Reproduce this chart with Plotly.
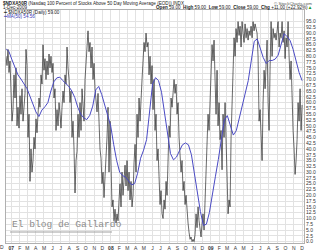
import plotly.graph_objects as go
import pandas as pd

# ---- data ----
data_start = "2006-12-13"
data_end = "2009-12-01"

pct_above_50ma = [
    80, 76, 83, 73, 78, 60, 52, 57, 72, 62,
    75, 50, 58, 49, 63, 55, 66, 52, 60, 64,
    83, 76, 45, 55, 26, 40, 30, 35, 45, 40,
    53, 47, 55, 62, 58, 72, 68, 85, 74, 79,
    70, 78, 72, 81, 75, 80, 73, 77, 62, 66,
    48, 57, 50, 60, 55, 49, 58, 65, 60, 72,
    68, 84, 75, 70, 60, 65, 45, 52, 40, 21,
    35, 39, 55, 45, 60, 48, 66, 58, 52, 70,
    78, 85, 91, 82, 86, 75, 84, 70, 77, 66,
    60, 56, 64, 48, 40, 36, 25, 30, 19, 28,
    35, 45, 58, 30, 52, 23, 15, 18, 9, 14,
    8, 12, 9, 18, 25, 15, 30, 20, 26, 33,
    24, 35, 22, 30, 18, 26, 15, 20, 34, 42,
    30, 55, 45, 62, 52, 66, 70, 78, 86, 82,
    90, 84, 86, 72, 80, 68, 76, 57, 70, 48,
    55, 35, 40, 28, 16, 22, 12, 10, 18, 14,
    26, 20, 38, 50, 45, 62, 58, 66, 70, 64,
    68, 55, 60, 45, 38, 30, 35, 22, 26, 16,
    20, 12, 8, 4, 1, 2, 0, 1, 0, 3,
    12, 6, 15, 9, 4, 2, 8, 12, 5, 18,
    30, 42, 55, 48, 62, 72, 85, 78, 87, 70,
    55, 74, 50, 60, 44, 48, 31, 55, 45, 60,
    39, 28, 12, 18, 15, 45, 57, 70, 88, 80,
    92, 86, 95, 89, 93, 84, 95, 90, 86, 94,
    88, 92, 87, 91, 89, 93, 88, 95, 91, 94,
    92, 90, 80, 52, 57, 49, 35, 60, 74, 66,
    80, 87, 60, 48, 75, 95, 80, 92, 88, 90,
    87, 92, 95, 84, 90, 88, 95, 86, 91, 79,
    88, 84, 95, 80, 70, 78, 55, 48, 40, 29,
    35, 44, 60, 52, 66, 48, 59,
]

ma50 = [
    83.3, 82.0, 78.5, 75.0, 72.0, 70.2, 68.3, 66.1, 62.8, 59.6,
    56.0, 54.0, 56.8, 58.2, 60.0, 65.0, 69.0, 70.7, 71.0, 69.5,
    68.3, 67.0, 65.0, 62.2, 58.0, 55.0, 53.4, 52.7, 54.5, 58.5,
    65.5, 67.0, 63.5, 59.0, 55.3, 50.0, 42.0, 35.0, 30.0, 28.5,
    27.8, 26.2, 24.5, 25.0, 29.5, 36.0, 39.5, 44.0, 56.6, 68.0,
    70.8, 69.5, 64.5, 56.0, 46.0, 38.0, 35.3, 36.5, 39.2, 41.8,
    42.6, 41.8, 37.5, 29.0, 20.5, 13.0, 7.0, 7.5, 12.5, 19.5,
    28.0, 35.5, 44.5, 52.5, 54.4, 49.8, 46.0, 47.9, 53.5, 58.7,
    63.5, 69.5, 78.0, 86.5, 87.5, 83.5, 79.5, 76.9, 78.2, 78.2,
    78.8, 80.5, 84.8, 89.8, 88.5, 86.8, 83.0, 78.0, 73.0, 69.5,
]

month_letters = ["J", "F", "M", "A", "M", "J", "J", "A", "S", "O", "N", "D"]
y_tick_values = [i * 2.5 for i in range(39)]

title_text = ("<b>$NDXA50R</b> (Nasdaq 100 Percent of Stocks Above 50 Day "
              "Moving Average (EOD)) INDX")
date_text = "1-Dec-2009"
ohlc_text = ("<b>Open</b> 59.00  <b>High</b> 59.00  <b>Low</b> 59.00  "
             "<b>Close</b> 59.00  <b>Chg</b> +11.00 (+22.92%)"
             "<span style='color:#1a9a1a'>▲</span>")
legend_main = "$NDXA50R (Daily) 59.00"
legend_ma = "MA(50) 54.56"
watermark = "El blog de Gallardo"

# ---- build ----
dates = pd.date_range(data_start, data_end, periods=len(pct_above_50ma))
ma_dates = pd.date_range(data_start, data_end, periods=len(ma50))
tick_months = pd.date_range("2007-01-01", "2009-12-01", freq="MS")
tick_text = [f"<b>{d.strftime('%y')}</b>" if d.month == 1 else month_letters[d.month - 1]
             for d in tick_months]

W, H = 320, 251
L, R, T, B = 6, 16, 10, 8
pw, ph = W - L - R, H - T - B


def px(xp):
    return (xp - L) / pw


def py(yp):
    return (H - B - yp) / ph


fig = go.Figure()
fig.add_trace(go.Scatter(x=dates, y=pct_above_50ma, mode="lines",
                         line=dict(color="#2a2a2a", width=0.7),
                         hoverinfo="skip"))
fig.add_trace(go.Scatter(x=ma_dates, y=ma50, mode="lines",
                         line=dict(color="#4a4ac4", width=1.0),
                         hoverinfo="skip"))

grid = "#e2e2e2"
fig.update_layout(
    width=W, height=H,
    margin=dict(l=L, r=R, t=T, b=B, pad=0, autoexpand=False),
    paper_bgcolor="white", plot_bgcolor="white",
    showlegend=False,
    font=dict(family="Liberation Sans, Arial, sans-serif", color="#222"),
    xaxis=dict(
        type="date", range=["2006-12-13", "2009-12-08"], automargin=False,
        tickmode="array", tickvals=tick_months, ticktext=tick_text,
        tickfont=dict(size=5, color="#333"), ticks="", ticklen=0,
        showgrid=True, gridcolor=grid, gridwidth=1,
        showline=True, mirror=True, linecolor="#b0b0b0", linewidth=1,
        zeroline=False, fixedrange=True,
    ),
    yaxis=dict(
        side="right", range=[-0.6, 100], automargin=False,
        tickmode="array", tickvals=y_tick_values, tickformat=".1f",
        tickfont=dict(size=5, color="#333"), ticks="", ticklen=0,
        showgrid=True, gridcolor=grid, gridwidth=1,
        showline=True, mirror=True, linecolor="#b0b0b0", linewidth=1,
        zeroline=False, fixedrange=True,
    ),
)

ann = []
hdr_font = dict(size=4.6, color="#222")
ann.append(dict(text=title_text, x=px(1), y=py(3), xanchor="left", yanchor="middle",
                font=hdr_font))
ann.append(dict(text="© StockCharts.com", x=px(314), y=py(3), xanchor="right",
                yanchor="middle", font=dict(size=4.4, color="#555")))
ann.append(dict(text=date_text, x=px(1), y=py(7.6), xanchor="left", yanchor="middle",
                font=hdr_font))
ann.append(dict(text=ohlc_text, x=px(314), y=py(7.6), xanchor="right", yanchor="middle",
                font=hdr_font))
ann.append(dict(text="<span style='color:#111'>━</span> " + legend_main, x=px(1),
                y=py(12.6), xanchor="left", yanchor="middle", font=hdr_font))
ann.append(dict(text="━" + legend_ma, x=px(1), y=py(16.6), xanchor="left",
                yanchor="middle", font=dict(size=4.6, color="#3a3ab8")))
ann.append(dict(text="D", x=px(2), y=py(247), xanchor="center", yanchor="middle",
                font=dict(size=5, color="#333")))
ann.append(dict(text=watermark, x=px(10), y=py(224), xanchor="left", yanchor="middle",
                font=dict(family="Liberation Mono, Courier New, monospace", size=9.6,
                          color="#8c8c8c")))
for a in ann:
    a.update(xref="paper", yref="paper", showarrow=False)
fig.update_layout(annotations=ann)

fig.add_shape(type="rect", xref="paper", yref="paper", x0=px(8), x1=px(113),
              y0=py(236), y1=py(214), fillcolor="white", line=dict(width=0),
              layer="between")
fig.add_shape(type="line", xref="paper", yref="paper", x0=px(10), x1=px(112),
              y0=py(232), y1=py(232), line=dict(color="#a0a0a0", width=1))

fig.write_html("out.html")
